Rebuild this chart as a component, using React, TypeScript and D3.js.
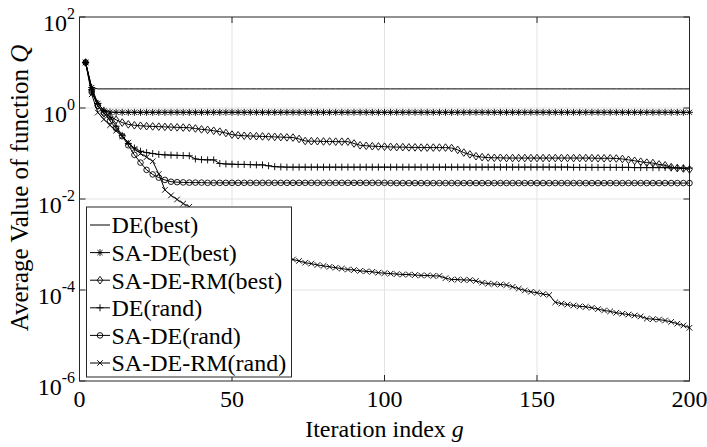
import React from 'react'
import * as d3 from 'd3'

const W = 707
const H = 447

// iteration index g (every second iteration is plotted)
const iterations = d3.range(2, 201, 2)

// log10 of the average value of Q
const deBest = [
  1, 0.45, 0.42, 0.42, 0.42, 0.42, 0.42, 0.42, 0.42, 0.42,
  0.42, 0.42, 0.42, 0.42, 0.42, 0.42, 0.42, 0.42, 0.42, 0.42,
  0.42, 0.42, 0.42, 0.42, 0.42, 0.42, 0.42, 0.42, 0.42, 0.42,
  0.42, 0.42, 0.42, 0.42, 0.42, 0.42, 0.42, 0.42, 0.42, 0.42,
  0.42, 0.42, 0.42, 0.42, 0.42, 0.42, 0.42, 0.42, 0.42, 0.42,
  0.42, 0.42, 0.42, 0.42, 0.42, 0.42, 0.42, 0.42, 0.42, 0.42,
  0.42, 0.42, 0.42, 0.42, 0.42, 0.42, 0.42, 0.42, 0.42, 0.42,
  0.42, 0.42, 0.42, 0.42, 0.42, 0.42, 0.42, 0.42, 0.42, 0.42,
  0.42, 0.42, 0.42, 0.42, 0.42, 0.42, 0.42, 0.42, 0.42, 0.42,
  0.42, 0.42, 0.42, 0.42, 0.42, 0.42, 0.42, 0.42, 0.42, 0.42,
]
const saDeBest = [
  1, 0.45, 0.1, -0.06, -0.09, -0.095, -0.095, -0.095, -0.095, -0.095,
  -0.095, -0.095, -0.095, -0.095, -0.095, -0.095, -0.095, -0.095, -0.095, -0.095,
  -0.095, -0.095, -0.095, -0.095, -0.095, -0.095, -0.095, -0.095, -0.095, -0.095,
  -0.095, -0.095, -0.095, -0.095, -0.095, -0.095, -0.095, -0.095, -0.095, -0.095,
  -0.095, -0.095, -0.095, -0.095, -0.095, -0.095, -0.095, -0.095, -0.095, -0.095,
  -0.095, -0.095, -0.095, -0.095, -0.095, -0.095, -0.095, -0.095, -0.095, -0.095,
  -0.095, -0.095, -0.095, -0.095, -0.095, -0.095, -0.095, -0.095, -0.095, -0.095,
  -0.095, -0.095, -0.095, -0.095, -0.095, -0.095, -0.095, -0.095, -0.095, -0.095,
  -0.095, -0.095, -0.095, -0.095, -0.095, -0.095, -0.095, -0.095, -0.095, -0.095,
  -0.095, -0.095, -0.095, -0.095, -0.095, -0.095, -0.095, -0.095, -0.095, -0.095,
]
const saDeRmBest = [
  1, 0.4, 0.05, -0.12, -0.19, -0.26, -0.32, -0.36, -0.38, -0.39,
  -0.4, -0.405, -0.41, -0.415, -0.42, -0.425, -0.43, -0.433, -0.45, -0.47,
  -0.48, -0.5, -0.52, -0.55, -0.585, -0.6, -0.61, -0.615, -0.62, -0.625,
  -0.63, -0.635, -0.64, -0.645, -0.65, -0.68, -0.725, -0.73, -0.73, -0.735,
  -0.735, -0.74, -0.74, -0.74, -0.78, -0.82, -0.83, -0.84, -0.845, -0.85,
  -0.855, -0.86, -0.86, -0.865, -0.865, -0.87, -0.87, -0.87, -0.87, -0.87,
  -0.88, -0.92, -0.98, -1.02, -1.06, -1.08, -1.09, -1.095, -1.095, -1.1,
  -1.1, -1.1, -1.1, -1.1, -1.1, -1.1, -1.1, -1.1, -1.1, -1.1,
  -1.1, -1.1, -1.1, -1.1, -1.105, -1.105, -1.105, -1.11, -1.12, -1.14,
  -1.16, -1.18, -1.2, -1.21, -1.24, -1.26, -1.3, -1.32, -1.33, -1.35,
]
const deRand = [
  1, 0.4, 0.1, -0.05, -0.2, -0.4, -0.6, -0.78, -0.88, -0.95,
  -0.98, -1.0, -1.02, -1.03, -1.035, -1.04, -1.045, -1.05, -1.12, -1.135,
  -1.14, -1.14, -1.22, -1.23, -1.235, -1.24, -1.24, -1.245, -1.25, -1.25,
  -1.27, -1.29, -1.295, -1.3, -1.3, -1.3, -1.3, -1.3, -1.3, -1.3,
  -1.3, -1.3, -1.3, -1.3, -1.3, -1.3, -1.3, -1.3, -1.3, -1.3,
  -1.3, -1.3, -1.3, -1.3, -1.3, -1.3, -1.3, -1.3, -1.3, -1.3,
  -1.3, -1.3, -1.3, -1.3, -1.3, -1.3, -1.3, -1.3, -1.3, -1.3,
  -1.3, -1.3, -1.3, -1.3, -1.3, -1.3, -1.3, -1.3, -1.3, -1.3,
  -1.305, -1.305, -1.305, -1.305, -1.305, -1.305, -1.305, -1.305, -1.305, -1.305,
  -1.31, -1.31, -1.31, -1.31, -1.31, -1.31, -1.315, -1.315, -1.32, -1.32,
]
const saDeRand = [
  1, 0.35, 0.05, -0.1, -0.28, -0.45, -0.62, -0.82, -1.03, -1.2,
  -1.36, -1.46, -1.53, -1.58, -1.62, -1.63, -1.635, -1.64, -1.64, -1.64,
  -1.645, -1.645, -1.645, -1.645, -1.645, -1.645, -1.645, -1.645, -1.645, -1.645,
  -1.645, -1.645, -1.645, -1.645, -1.645, -1.645, -1.645, -1.645, -1.645, -1.645,
  -1.645, -1.645, -1.645, -1.645, -1.645, -1.645, -1.645, -1.645, -1.645, -1.645,
  -1.65, -1.65, -1.65, -1.65, -1.65, -1.65, -1.65, -1.65, -1.65, -1.65,
  -1.65, -1.65, -1.65, -1.65, -1.65, -1.65, -1.65, -1.65, -1.65, -1.65,
  -1.65, -1.65, -1.65, -1.65, -1.65, -1.65, -1.65, -1.65, -1.65, -1.65,
  -1.65, -1.65, -1.65, -1.65, -1.65, -1.65, -1.65, -1.65, -1.65, -1.65,
  -1.65, -1.65, -1.65, -1.65, -1.65, -1.65, -1.65, -1.65, -1.65, -1.65,
]
const saDeRmRand = [
  1, 0.3, -0.1, -0.25, -0.38, -0.5, -0.62, -0.76, -0.9, -1.0,
  -1.08, -1.17, -1.45, -1.8, -1.92, -2.01, -2.1, -2.17, -2.25, -2.33,
  -2.41, -2.5, -2.58, -2.66, -2.74, -2.82, -2.9, -2.97, -3.04, -3.1,
  -3.16, -3.22, -3.27, -3.3, -3.33, -3.36, -3.4, -3.42, -3.45, -3.47,
  -3.49, -3.51, -3.53, -3.55, -3.56, -3.58, -3.59, -3.6, -3.62, -3.63,
  -3.64, -3.65, -3.66, -3.66, -3.67, -3.68, -3.68, -3.69, -3.69, -3.74,
  -3.77, -3.77, -3.78, -3.78, -3.8, -3.84, -3.86, -3.87, -3.88, -3.89,
  -3.93, -3.97, -4.01, -4.04, -4.06, -4.09, -4.11, -4.27, -4.3, -4.32,
  -4.34, -4.36, -4.37, -4.39, -4.42, -4.45, -4.47, -4.5, -4.52, -4.54,
  -4.56, -4.58, -4.63, -4.64, -4.65, -4.67, -4.7, -4.74, -4.78, -4.83,
]

const seriesNames = ['DE(best)', 'SA-DE(best)', 'SA-DE-RM(best)', 'DE(rand)', 'SA-DE(rand)', 'SA-DE-RM(rand)']
const seriesMarkers = ['none', 'star', 'diamond', 'plus', 'circle', 'cross']
const seriesValues = [deBest, saDeBest, saDeRmBest, deRand, saDeRand, saDeRmRand]

const xTicks = [0, 50, 100, 150, 200]
const yTickExps = [-6, -4, -2, 0, 2]

const font = "'Liberation Serif', 'DejaVu Serif', serif"
const axisColor = '#262626'
const gridColor = '#e3e3e3'

const markerPaths: Record<string, string> = {
  star: 'M-3.5,0H3.5M0,-3.5V3.5M-2.6,-2.6L2.6,2.6M-2.6,2.6L2.6,-2.6',
  diamond: 'M0,-3.8L2.8,0L0,3.8L-2.8,0Z',
  plus: 'M-3.5,0H3.5M0,-3.5V3.5',
  cross: 'M-2.8,-2.8L2.8,2.8M-2.8,2.8L2.8,-2.8',
}

const Marker = ({ type, x, y }: { type: string; x: number; y: number }) => {
  if (type === 'none') return null
  if (type === 'circle')
    return <circle cx={x} cy={y} r={2.8} fill="none" stroke="#000" strokeWidth={0.9} />
  return <path d={markerPaths[type]} transform={`translate(${x},${y})`} fill="none" stroke="#000" strokeWidth={0.9} />
}

export default function App() {
  const left = 79.5, right = 689.5, top = 17, bottom = 381

  const xScale = d3.scaleLinear().domain([0, 200]).range([left, right])
  const yScale = d3.scaleLog().domain([1e-6, 1e2]).range([bottom, top])

  const line = d3.line<number>()
    .x((_, i) => xScale(iterations[i]))
    .y(v => yScale(Math.pow(10, v)))

  const legendX = 86.5, legendY = 207, legendW = 205, legendH = 170
  const rowY = (i: number) => 225 + i * 27.6
  const txt = { fontFamily: font, fontSize: '24px' }

  return (
    <svg width={W} height={H} style={{ position: 'absolute', left: 0, top: 0, background: '#fff', fontFamily: font }}>
      <rect x={0} y={0} width={W} height={H} fill="#fff" />

      {/* grid */}
      {xTicks.slice(1, -1).map(t => (
        <line key={'gx' + t} x1={xScale(t)} x2={xScale(t)} y1={top} y2={bottom} stroke={gridColor} />
      ))}
      {yTickExps.slice(1, -1).map(e => (
        <line key={'gy' + e} x1={left} x2={right} y1={yScale(Math.pow(10, e))} y2={yScale(Math.pow(10, e))} stroke={gridColor} />
      ))}

      {/* box and ticks */}
      <rect x={left} y={top} width={right - left} height={bottom - top} fill="none" stroke={axisColor} strokeWidth={1} />
      {xTicks.map(t => (
        <g key={'tx' + t}>
          <line x1={xScale(t)} x2={xScale(t)} y1={bottom} y2={bottom - 6} stroke={axisColor} />
          <line x1={xScale(t)} x2={xScale(t)} y1={top} y2={top + 6} stroke={axisColor} />
          <text x={xScale(t)} y={407} style={txt} textAnchor="middle" fill="#000">{t}</text>
        </g>
      ))}
      {yTickExps.map(e => {
        const yy = yScale(Math.pow(10, e))
        return (
          <g key={'ty' + e}>
            <line x1={left} x2={left + 6} y1={yy} y2={yy} stroke={axisColor} />
            <line x1={right} x2={right - 6} y1={yy} y2={yy} stroke={axisColor} />
            <text x={75} y={yy + 14} style={txt} textAnchor="end" fill="#000">
              10<tspan style={{ fontSize: '16px' }} dy={-12}>{e < 0 ? '-' + Math.abs(e) : e}</tspan>
            </text>
          </g>
        )
      })}

      {/* series */}
      {seriesValues.map((vals, si) => (
        <g key={seriesNames[si]}>
          <path d={line(vals) || ''} fill="none" stroke="#000" strokeWidth={1} />
          {vals.map((v, i) => (
            <Marker key={i} type={seriesMarkers[si]} x={xScale(iterations[i])} y={yScale(Math.pow(10, v))} />
          ))}
        </g>
      ))}

      {/* axis labels */}
      <text x={(left + right) / 2} y={437} style={txt} textAnchor="middle" fill="#000">
        Iteration index <tspan fontStyle="italic">g</tspan>
      </text>
      <text transform={`translate(28,188) rotate(-90)`} style={{ fontFamily: font, fontSize: '25px' }} textAnchor="middle" fill="#000">
        Average Value of function <tspan fontStyle="italic">Q</tspan>
      </text>

      {/* legend */}
      <rect x={legendX} y={legendY} width={legendW} height={legendH} fill="#fff" stroke={axisColor} strokeWidth={1} />
      {seriesNames.map((name, i) => (
        <g key={'lg' + name}>
          <line x1={90} x2={110} y1={rowY(i)} y2={rowY(i)} stroke="#000" strokeWidth={1} />
          <Marker type={seriesMarkers[i]} x={100} y={rowY(i)} />
          <text x={111.5} y={rowY(i)} dy="0.35em" style={txt} fill="#000">{name}</text>
        </g>
      ))}
    </svg>
  )
}
